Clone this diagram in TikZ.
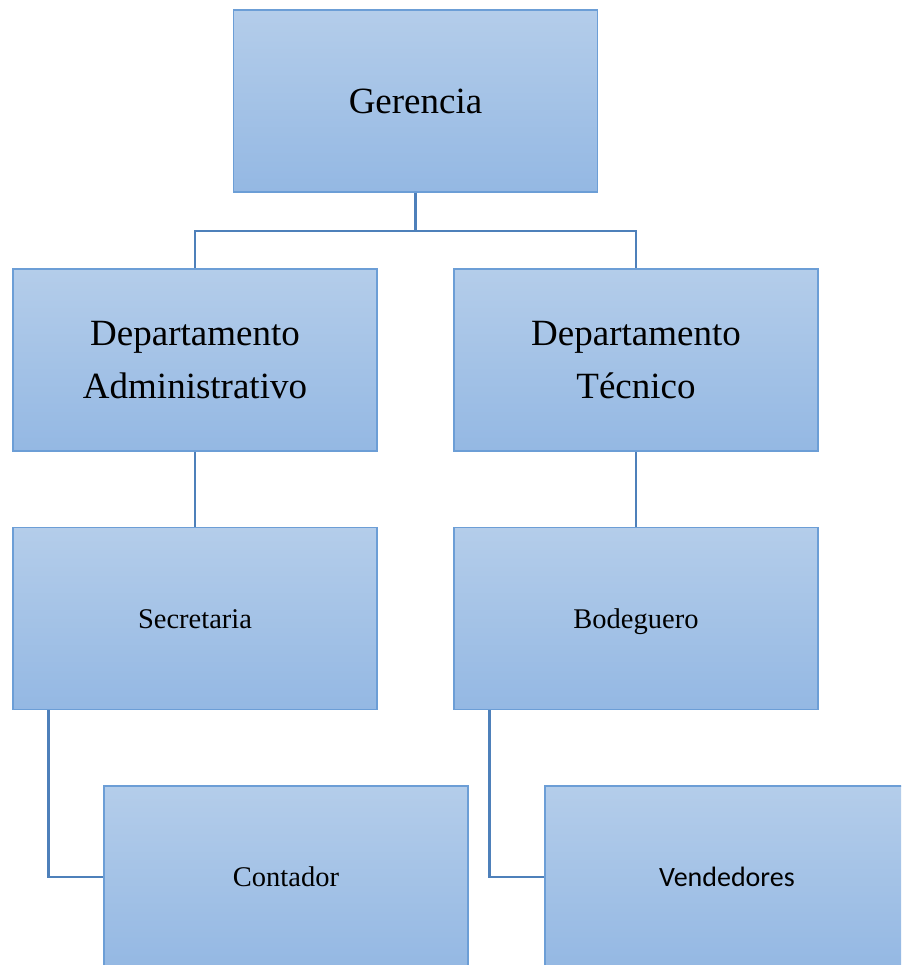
\documentclass[tikz,border=0pt]{standalone}
\usepackage{fontspec}
\setmainfont{Liberation Serif}
\newfontfamily\calibrifont{Carlito}
\definecolor{boxtop}{RGB}{180,205,234}
\definecolor{boxbot}{RGB}{148,184,227}
\definecolor{boxedge}{RGB}{108,158,214}
\definecolor{linkcol}{RGB}{78,128,186}
\begin{document}
\begin{tikzpicture}[x=1pt,y=-1pt,
  orgbox/.style={rectangle, draw=boxedge, line width=1.5pt, top color=boxtop, bottom color=boxbot,
    minimum width=364pt, minimum height=182pt, inner sep=0pt, align=center, text=black},
  bigtext/.style={font=\fontsize{37}{53}\selectfont},
  smalltext/.style={font=\fontsize{28.5}{33}\selectfont, text height=25.5pt, text depth=6.5pt},
  link/.style={draw=linkcol, line width=2.6pt}]
\useasboundingbox (0,0) rectangle (901,965);
\clip (0,0) rectangle (901,965);
\node[orgbox, bigtext] (G) at (415.5,101) {Gerencia};
\node[orgbox, bigtext] (A) at (195,360) {Departamento\\Administrativo};
\node[orgbox, bigtext] (T) at (636,360) {Departamento\\Técnico};
\node[orgbox, smalltext] (S) at (195,618.5) {Secretaria};
\node[orgbox, smalltext] (B) at (636,618.5) {Bodeguero};
\node[orgbox, smalltext] (C) at (286,877) {Contador};
\node[orgbox, smalltext, font=\calibrifont\fontsize{28}{33}\selectfont] (V) at (727,877) {Vendedores};
\coordinate (bus) at (415.5,231);
\draw[link] (G.south) -- (bus);
\draw[link] (A.north) |- (bus) -| (T.north);
\draw[link] (A.south) -- (S.north);
\draw[link] (T.south) -- (B.north);
\draw[link] ([xshift=36pt]S.south west) |- (C.west);
\draw[link] ([xshift=36pt]B.south west) |- (V.west);
\end{tikzpicture}
\end{document}
